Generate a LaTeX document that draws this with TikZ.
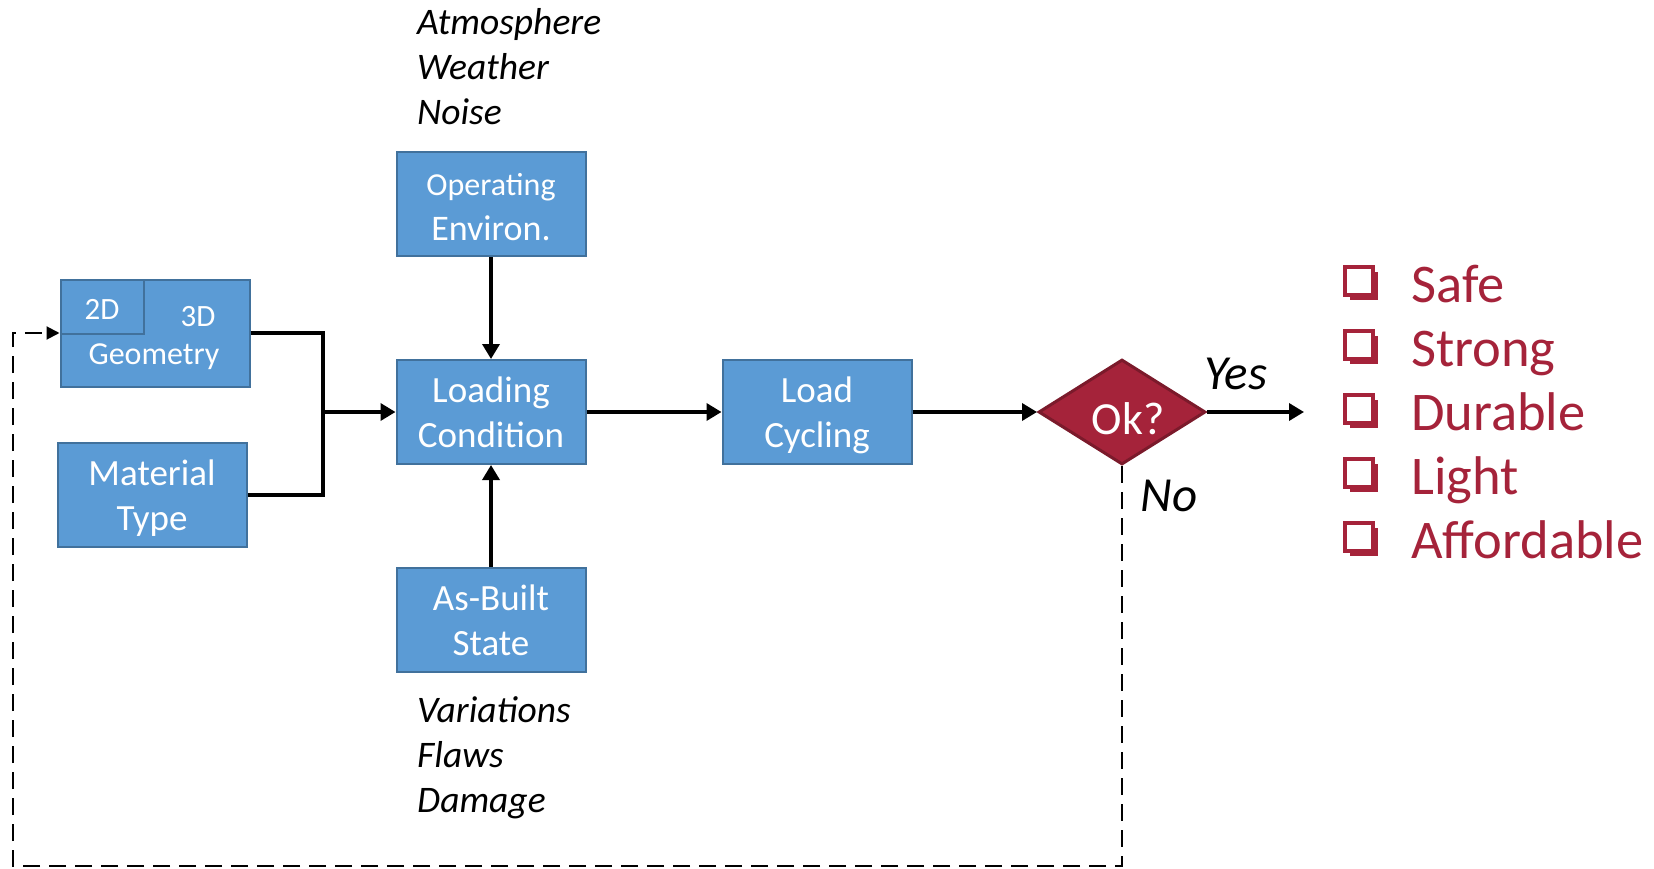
\documentclass[tikz,border=0pt]{standalone}
\usepackage{fontspec}
\setmainfont{Carlito}
\usetikzlibrary{shapes.geometric,arrows.meta,positioning,shadows}
\definecolor{boxblue}{HTML}{5B9BD5}
\definecolor{boxedge}{HTML}{41719C}
\definecolor{okred}{HTML}{A5233A}
\definecolor{okedge}{HTML}{7B1A2B}
\begin{document}
\begin{tikzpicture}[
                  x=1pt,y=-1pt,
                  block/.style={draw=boxedge,line width=2pt,fill=boxblue,text=white,
                    minimum width=189pt,minimum height=104pt,inner sep=0pt,
                    align=center,font=\fontsize{37}{45}\selectfont},
                  small/.style={text=white,inner sep=0pt,font=\fontsize{31}{34}\selectfont},
                  flow/.style={line width=3.5pt,-{Triangle[length=15pt,width=17pt]}},
                  back/.style={line width=2pt,dash pattern=on 17pt off 9pt,
                    -{Triangle[length=13pt,width=13pt]}},
                  note/.style={anchor=west,align=left,inner sep=0pt,
                    font=\fontsize{37.5}{45}\selectfont\itshape},
                  answer/.style={inner sep=0pt,font=\fontsize{49}{52}\selectfont\itshape},
                  tick/.style={draw=okred,fill=white,line width=3.5pt,minimum size=28pt,
                    inner sep=0pt,drop shadow={shadow xshift=5pt,shadow yshift=-5pt,
                    fill=okred,opacity=1}},
                  goal/.style={anchor=base west,inner sep=0pt,text=okred,
                    font=\fontsize{54.5}{60}\selectfont}
                ]
                  \useasboundingbox (0,0) rectangle (1654,869);
                  \node[block,minimum height=107pt] (geom) at (155,333) {};
                  \node[block,small,minimum width=83pt,minimum height=54pt,anchor=north west]
                    (geotwo) at (geom.north west) {\rule{0pt}{26pt}2D};
                  \node[small] (geothree) at (198,317) {3D};
                  \node[small,font=\fontsize{32}{36}\selectfont] (geotext) at (154,357) {Geometry};
                  \node[block] (mat) at (152,495) {\strut Material\\Type};
                  \node[block] (load) at (491,412) {Loading\\Condition};
                  \node[block] (oper) at (491,204)
                    {\rule{0pt}{28pt}\fontsize{32}{42}\selectfont Operating\\\fontsize{36}{42}\selectfont Environ.};
                  \node[block] (asb) at (491,620) {As-Built\\State};
                  \node[block] (cyc) at (817,412) {\strut Load\\Cycling};
                  \node[diamond,draw=okedge,line width=3pt,fill=okred,text=white,
                    minimum width=167pt,minimum height=105pt,inner sep=0pt,
                    font=\fontsize{46}{46}\selectfont] (ok) at (1122,412)
                    {\hspace{12pt}\smash{\raisebox{-22pt}{Ok?}}};

                  \node[note] (envnotes) at (417,67) {Atmosphere\\Weather\\Noise};
                  \node[note] (asbnotes) at (417,758) {Variations\\Flaws\\Damage};

                  \coordinate (jn) at (323,412);
                  \draw[line width=3.5pt] (geom.east) -| (jn);
                  \draw[line width=3.5pt] (mat.east) -| (jn);
                  \draw[flow] (jn) -- (load.west);
                  \draw[flow] (oper) -- (load);
                  \draw[flow] (asb) -- (load);
                  \draw[flow] (load) -- (cyc);
                  \draw[flow] (cyc) -- (ok);
                  \coordinate (yes) at (1304,412);
                  \draw[flow] (ok.east) -- (yes);
                  \node[answer] (yeslbl) at (1236,374) {Yes};
                  \node[answer] (nolbl) at (1169,496) {No};

                  \coordinate (c1) at (1122,866);
                  \coordinate (c2) at (13,866);
                  \draw[back] (ok.south) -- (c1) -- (c2) |- (geom.west);

                  \foreach \t [count=\i] in {Safe,Strong,Durable,Light,Affordable}{
                    \node[tick] (box\i) at (1359,{281+64*(\i-1)}) {};
                    \node[goal] (goal\i) at (1411,{302+64*(\i-1)}) {\t};
                  }
                \end{tikzpicture}
\end{document}
